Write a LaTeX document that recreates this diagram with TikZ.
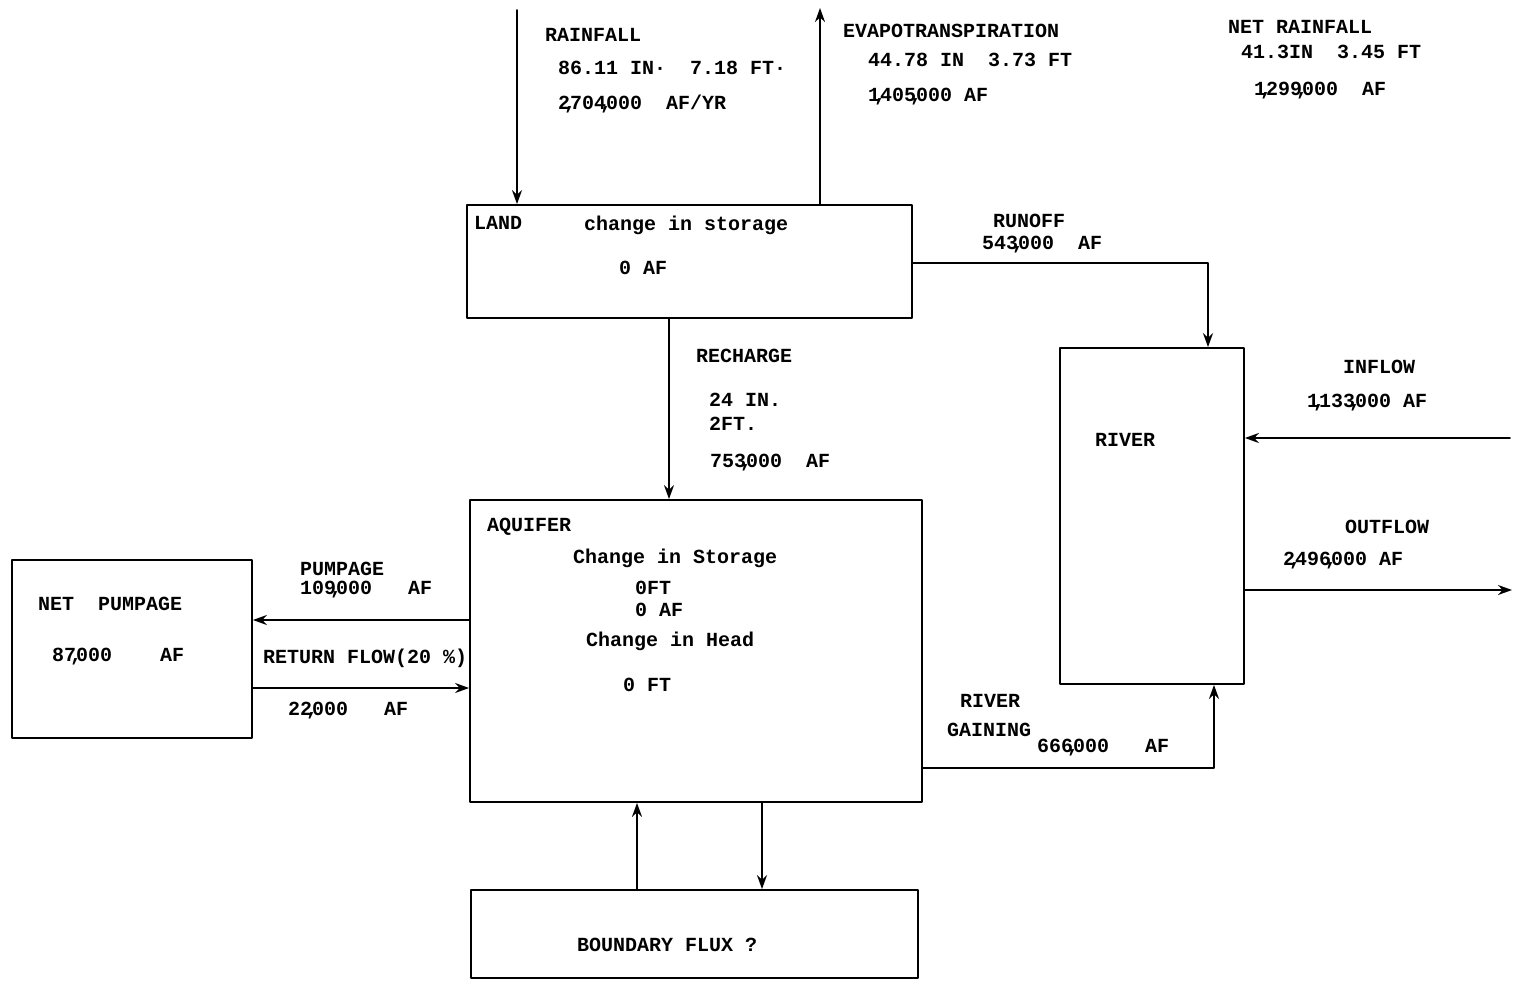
\documentclass[tikz,border=0pt]{standalone}
\usepackage{fontspec}
\setmonofont{Liberation Mono}
\usetikzlibrary{arrows.meta}
\newcommand{\tyfont}{\fontsize{20}{22}\selectfont\ttfamily\bfseries}
\newcommand{\cma}{\makebox[0pt]{,}}
\tikzset{
  box/.style={draw, line width=1.8pt, inner sep=0pt},
  lbl/.style={anchor=west, inner sep=0pt, font=\tyfont},
}
\begin{document}
\begin{tikzpicture}[x=1pt, y=-1pt, >={Stealth[length=14pt,width=10pt]}, line join=round, line cap=round]
	\useasboundingbox[fill=white] (0,0) rectangle (1516,985);
	% storage boxes
	\node[box, minimum width=445pt, minimum height=113pt] (land) at (689.5,261.5) {};
	\node[box, minimum width=452pt, minimum height=302pt] (aquifer) at (696,651) {};
	\node[box, minimum width=240pt, minimum height=178pt] (netpump) at (132,649) {};
	\node[box, minimum width=447pt, minimum height=88pt] (boundary) at (694.5,934) {};
	\node[box, minimum width=184pt, minimum height=336pt] (river) at (1152,516) {};
	% free ends and bends
	\coordinate (rainTop) at (517,10);
	\coordinate (etTop) at (820,8);
	\coordinate (runoffX) at (1208,263);
	\coordinate (rechX) at (669,0);
	\coordinate (inEnd) at (1510,438);
	\coordinate (outEnd) at (1512,590);
	\coordinate (pumpY) at (0,620);
	\coordinate (retY) at (0,688);
	\coordinate (gainX) at (1214,768);
	\coordinate (bUp) at (637,0);
	\coordinate (bDown) at (762,0);
	% flows
	\begin{scope}[line width=1.8pt]
	\draw[->] (rainTop) -- (rainTop |- land.north);
	\draw[->] (etTop |- land.north) -- (etTop);
	\draw[->] (land.east |- runoffX) -| (runoffX |- river.north);
	\draw[->] (rechX |- land.south) -- (rechX |- aquifer.north);
	\draw[->] (inEnd) -- (inEnd -| river.east);
	\draw[->] (outEnd -| river.east) -- (outEnd);
	\draw[->] (pumpY -| aquifer.west) -- (pumpY -| netpump.east);
	\draw[->] (retY -| netpump.east) -- (retY -| aquifer.west);
	\draw[->] (gainX -| aquifer.east) -| (gainX |- river.south);
	\draw[->] (bUp |- boundary.north) -- (bUp |- aquifer.south);
	\draw[->] (bDown |- aquifer.south) -- (bDown |- boundary.north);
	\end{scope}
	% labels
	\node[lbl] (rain1) at (545,35) {RAINFALL};
	\node[lbl] (rain2) at (558,68) {86.11 IN·~~7.18 FT·};
	\node[lbl] (rain3) at (558,104) {2\cma704\cma000~~AF/YR};
	\node[lbl] (et1) at (843,31) {EVAPOTRANSPIRATION};
	\node[lbl] (et2) at (868,60) {44.78 IN~~3.73 FT};
	\node[lbl] (et3) at (868,97) {1\cma405\cma000 AF};
	\node[lbl] (net1) at (1228,27) {NET RAINFALL};
	\node[lbl] (net2) at (1241,52) {41.3IN~~3.45 FT};
	\node[lbl] (net3) at (1254,91) {1\cma299\cma000~~AF};
	\node[lbl] (land1) at (474,223) {LAND};
	\node[lbl] (land2) at (584,225) {change in storage};
	\node[lbl] (land3) at (619,268) {0 AF};
	\node[lbl] (run1) at (993,221) {RUNOFF};
	\node[lbl] (run2) at (982,245) {543\cma000~~AF};
	\node[lbl] (rech1) at (696,356) {RECHARGE};
	\node[lbl] (rech2) at (709,400) {24 IN.};
	\node[lbl] (rech3) at (709,424) {2FT.};
	\node[lbl] (rech4) at (710,463) {753\cma000~~AF};
	\node[lbl] (in1) at (1343,367) {INFLOW};
	\node[lbl] (in2) at (1307,403) {1\cma133\cma000 AF};
	\node[lbl] (riv1) at (1095,440) {RIVER};
	\node[lbl] (out1) at (1345,527) {OUTFLOW};
	\node[lbl] (out2) at (1283,561) {2\cma496\cma000 AF};
	\node[lbl] (aq1) at (487,527) {AQUIFER};
	\node[lbl] (aq2) at (573,558) {Change in Storage};
	\node[lbl] (aq3) at (635,588) {0FT};
	\node[lbl] (aq4) at (635,610) {0 AF};
	\node[lbl] (aq5) at (586,641) {Change in Head};
	\node[lbl] (aq6) at (623,685) {0 FT};
	\node[lbl] (pump1) at (300,569) {PUMPAGE};
	\node[lbl] (pump2) at (300,590) {109\cma000~~~AF};
	\node[lbl] (np1) at (38,604) {NET~~PUMPAGE};
	\node[lbl] (np2) at (52,657) {87\cma000~~~~AF};
	\node[lbl] (ret1) at (263,658) {RETURN FLOW(20 \%)};
	\node[lbl] (ret2) at (288,711) {22\cma000~~~AF};
	\node[lbl] (gain1) at (960,701) {RIVER};
	\node[lbl] (gain2) at (947,730) {GAINING};
	\node[lbl] (gain3) at (1037,748) {666\cma000~~~AF};
	\node[lbl] (bf1) at (577,945) {BOUNDARY FLUX ?};
\end{tikzpicture}
\end{document}
